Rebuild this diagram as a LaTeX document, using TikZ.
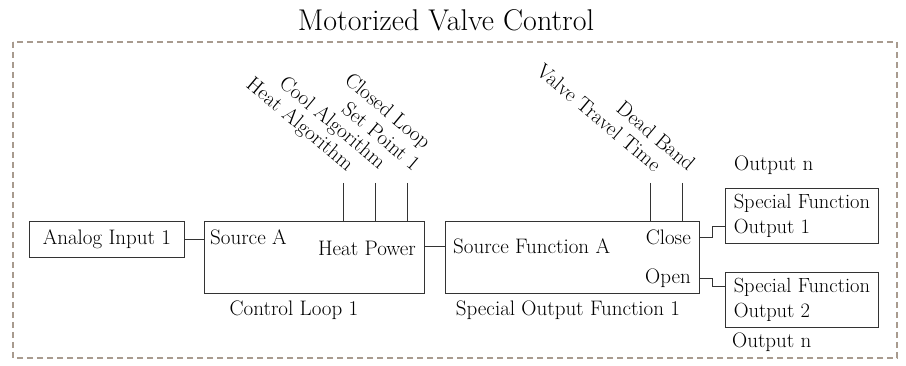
\documentclass[tikz,border=0pt]{standalone}
\usepackage{fontspec}
\begin{document}
\begin{tikzpicture}[x=1pt,y=-1pt,
  every node/.style={inner sep=0pt, text=black},
  body/.style={font=\fontsize{21}{25}\selectfont},
  box/.style={draw=black!80, line width=0.8pt, anchor=north west, body},
  sfbox/.style={box, font=\fontsize{20.5}{24.5}\selectfont, minimum width=153pt, minimum height=55pt, align=left, inner xsep=6pt},
  wire/.style={draw=black!80, line width=0.8pt},
  tag/.style={body, rotate=-40, anchor=base east},
  frame/.style={draw=black!30!brown!40!gray!70, line width=1.3pt, dash pattern=on 6pt off 4pt}
]
\useasboundingbox (0,0) rectangle (906,366);
\node[font=\fontsize{30}{34}\selectfont] (title) at (446,20) {Motorized Valve Control};
\draw[frame] (13,42) rectangle (897,358);

% boxes
\node[box, minimum width=155pt, minimum height=36pt] (ai) at (29,221) {Analog Input 1};
\node[box, minimum width=220pt, minimum height=72pt] (cl) at (204,221) {};
\node[box, minimum width=254pt, minimum height=72pt] (sof) at (445,221) {};
\node[sfbox] (sf1) at (725,188) {Special Function\\Output 1};
\node[sfbox] (sf2) at (725,272) {Special Function\\Output 2};

% inner texts
\node[body, anchor=west] (srcA) at (210,237) {Source A};
\node[body, anchor=east] (hp) at (416,248) {Heat Power};
\node[body, anchor=west] (sfa) at (453,246) {Source Function A};
\node[body, anchor=east] (close) at (691,237) {Close};
\node[body, anchor=east] (open) at (691,278) {Open};
\node[body] (cllab) at (294,310) {Control Loop 1};
\node[body] (soflab) at (568,310) {Special Output Function 1};
\node[body, anchor=west] (outtop) at (734,165) {Output n};
\node[body, anchor=west] (outbot) at (732,342) {Output n};

% connectors between boxes
\coordinate (aiOut) at (ai.east);
\draw[wire] (aiOut) -- (cl.west |- aiOut);
\coordinate (hpOut) at (424,246);
\draw[wire] (hpOut) -- (sof.west |- hpOut);
\coordinate (closeOut) at (699,237);
\coordinate (closeMid) at (712,237);
\coordinate (closeIn) at (sf1.west |- 0,226);
\draw[wire] (closeOut) -- (closeMid) |- (closeIn);
\coordinate (openOut) at (699,278);
\coordinate (openMid) at (712,278);
\coordinate (openIn) at (sf2.west |- 0,286);
\draw[wire] (openOut) -- (openMid) |- (openIn);

% parameter stubs
\coordinate (p1) at (343,183);
\coordinate (p2) at (375,183);
\coordinate (p3) at (407,183);
\coordinate (p4) at (650,183);
\coordinate (p5) at (682,183);
\draw[wire] (p1) -- (p1 |- cl.north);
\draw[wire] (p2) -- (p2 |- cl.north);
\draw[wire] (p3) -- (p3 |- cl.north);
\draw[wire] (p4) -- (p4 |- sof.north);
\draw[wire] (p5) -- (p5 |- sof.north);

% rotated labels
\node[tag] (t1) at (347,172) {Heat Algorithm};
\node[tag] (t2) at (379,170) {Cool Algorithm};
\node[tag] (t3) at (413,172) {Set Point 1};
\node[tag] (t3b) at (424,150) {Closed Loop};
\node[tag] (t4) at (654,173) {Valve Travel Time};
\node[tag] (t5) at (688,172) {Dead Band};
\end{tikzpicture}
\end{document}
